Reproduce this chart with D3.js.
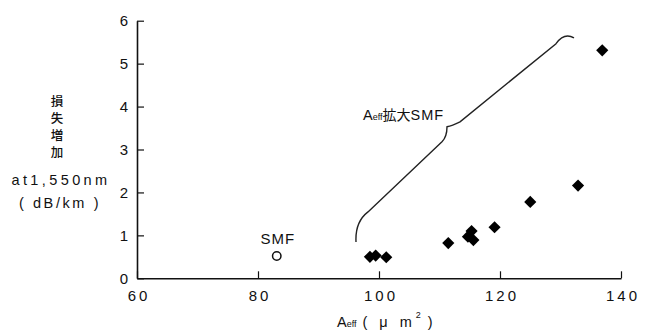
<!DOCTYPE html>
<html>
<head>
<meta charset="utf-8">
<script src="https://cdn.jsdelivr.net/npm/d3@7"></script>
<style>
  body { margin: 0; background: #fff; }
  svg { display: block; }
  text { font-family: "Liberation Sans", Arial, sans-serif; fill: #111; }
  .cjk { font-family: "Noto Sans CJK JP", sans-serif; }
</style>
</head>
<body>
<div id="chart"></div>
<script>
// data
var smfX = [83.1];
var smfY = [0.52];
var enlargedX = [98.5, 99.45, 101.2, 111.45, 114.7, 115.3, 115.6, 119.1, 125.0, 132.9, 136.9];
var enlargedY = [0.50, 0.53, 0.49, 0.82, 0.97, 1.10, 0.89, 1.19, 1.78, 2.16, 5.31];
var xTicks = [60, 80, 100, 120, 140];
var yTicks = [0, 1, 2, 3, 4, 5, 6];
// brace annotation anchors (data units)
var braceX = [96.2, 96.03, 98.18, 110.41, 111.24, 111.24, 112.07, 113.39, 129.26, 130.6, 132.23];
var braceY = [0.846, 1.313, 1.546, 3.179, 3.296, 3.529, 3.552, 3.645, 5.465, 5.73, 5.60];

var width = 653;
var height = 333;

var x = d3.scaleLinear().domain([60, 140]).range([137, 621]);
var y = d3.scaleLinear().domain([0, 6]).range([278.3, 20.7]);

var svg = d3.select('#chart').append('svg')
    .attr('width', width)
    .attr('height', height);

// y axis, ticks pointing inward
var yAxis = svg.append('g')
    .attr('transform', 'translate(' + x(60) + ',0)')
    .call(d3.axisLeft(y).tickValues(yTicks).tickFormat(d3.format('d'))
        .tickSizeInner(-7).tickSizeOuter(0).tickPadding(9));
yAxis.selectAll('text').style('font-size', '15px').attr('dy', '0.34em');

// x axis
var xAxis = svg.append('g')
    .attr('transform', 'translate(0,' + y(0) + ')')
    .call(d3.axisBottom(x).tickValues(xTicks).tickFormat(d3.format('d'))
        .tickSizeInner(-7).tickSizeOuter(0).tickPadding(12));
xAxis.selectAll('text')
    .style('font-size', '15px')
    .style('letter-spacing', '3px')
    .attr('dx', '1.5px');

svg.selectAll('.domain, .tick line')
    .attr('stroke', '#111')
    .attr('stroke-width', 1.6);
svg.selectAll('.tick line').attr('stroke-width', 1.2);

// y axis title
var yTitle = ['損', '失', '増', '加'];
svg.selectAll('.ytitle')
    .data(yTitle)
    .enter().append('text')
    .attr('class', 'cjk')
    .attr('x', 57)
    .attr('y', function (d, i) { return 105.5 + i * 17.3; })
    .attr('text-anchor', 'middle')
    .style('font-size', '12.5px')
    .style('font-weight', '500')
    .text(function (d) { return d; });

svg.append('text')
    .attr('x', 61)
    .attr('y', 185)
    .attr('text-anchor', 'middle')
    .style('font-size', '14.5px')
    .style('letter-spacing', '3.4px')
    .text('at1,550nm');

svg.append('text')
    .attr('x', 60)
    .attr('y', 208)
    .attr('text-anchor', 'middle')
    .style('font-size', '14.5px')
    .style('letter-spacing', '2.6px')
    .text('( dB/km )');

// x axis title
var xt = svg.append('text')
    .attr('x', 337)
    .attr('y', 327)
    .style('font-size', '14.5px');
xt.append('tspan').text('A');
xt.append('tspan').style('font-size', '9px').text('eff');
xt.append('tspan').attr('dx', 6).style('letter-spacing', '4px').text('( μ m');
xt.append('tspan').attr('dy', -9).style('font-size', '9px').text('2');
xt.append('tspan').attr('dy', 9).attr('dx', 7).text(')');

// brace annotation
var bp = braceX.map(function (d, i) { return [x(d), y(braceY[i])]; });
var bracePath = ['M', bp[0], 'Q', bp[1], bp[2], 'L', bp[3], 'Q', bp[4], bp[5],
    'Q', bp[6], bp[7], 'L', bp[8], 'Q', bp[9], bp[10]].join(' ');
svg.append('path')
    .attr('d', bracePath)
    .attr('fill', 'none')
    .attr('stroke', '#222')
    .attr('stroke-width', 1.4);

var lbl = svg.append('text')
    .attr('x', 363)
    .attr('y', 120)
    .style('font-size', '14.5px');
lbl.append('tspan').text('A');
lbl.append('tspan').style('font-size', '9px').text('eff');
lbl.append('tspan').style('font-family', '"Noto Sans CJK JP", sans-serif').style('font-size', '14px').text('拡大');
lbl.append('tspan').style('letter-spacing', '1px').text('SMF');

// SMF label
svg.append('text')
    .attr('x', x(smfX[0]) + 1)
    .attr('y', y(smfY[0]) - 12)
    .attr('text-anchor', 'middle')
    .style('font-size', '15px')
    .style('letter-spacing', '1px')
    .text('SMF');

// SMF point (open circle)
svg.selectAll('.smf')
    .data(smfX)
    .enter().append('circle')
    .attr('cx', function (d) { return x(d); })
    .attr('cy', function (d, i) { return y(smfY[i]); })
    .attr('r', 4.2)
    .attr('fill', '#fff')
    .attr('stroke', '#111')
    .attr('stroke-width', 1.5);

// enlarged Aeff fibres (diamonds)
var diamond = d3.symbol().type(d3.symbolSquare).size(74);
svg.selectAll('.enl')
    .data(enlargedX)
    .enter().append('path')
    .attr('d', diamond)
    .attr('transform', function (d, i) {
        return 'translate(' + x(d) + ',' + y(enlargedY[i]) + ') rotate(45)';
    })
    .attr('fill', '#000');
</script>
</body>
</html>
